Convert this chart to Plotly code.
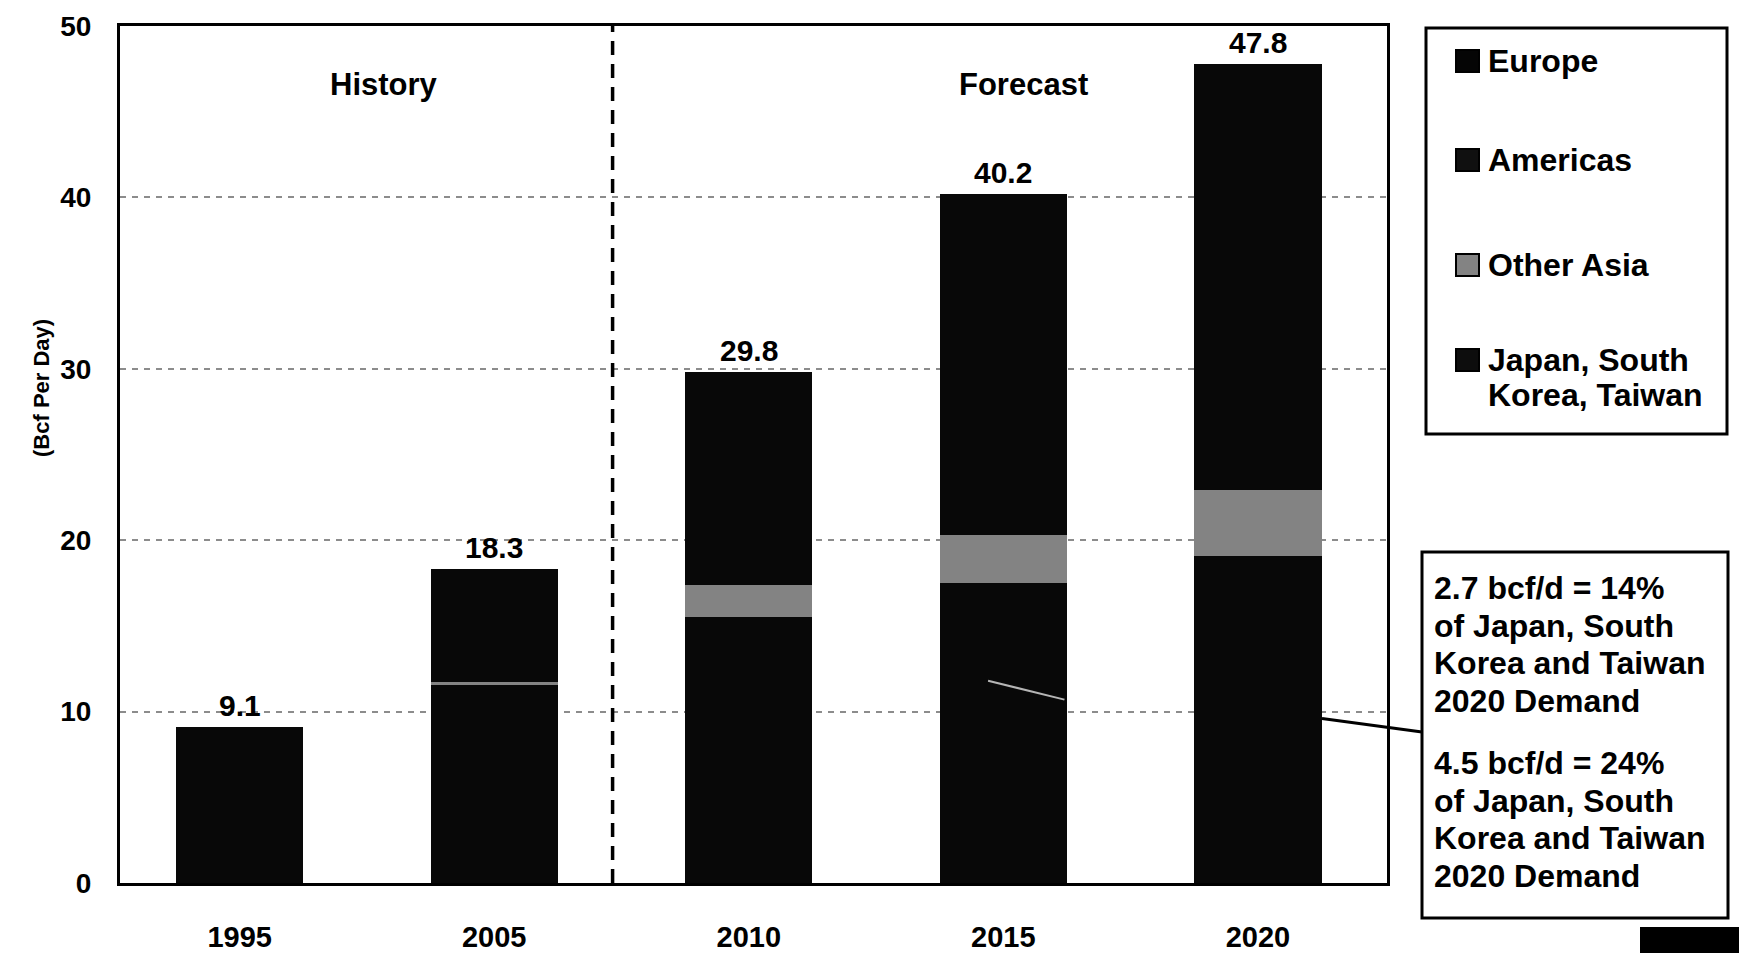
import plotly.graph_objects as go

# ---- data (Bcf per day) ----
years = ["1995", "2005", "2010", "2015", "2020"]
japan_korea_taiwan = [9.1, 11.6, 15.5, 17.5, 19.1]
other_asia = [0.0, 0.1, 1.9, 2.8, 3.8]
americas = [0.0, 2.5, 5.2, 8.3, 10.6]
europe = [0.0, 4.1, 7.2, 11.6, 14.3]

series_names = ["Japan, South Korea, Taiwan", "Other Asia", "Americas", "Europe"]
legend_labels = ["Europe", "Americas", "Other Asia", "Japan, South<br>Korea, Taiwan"]
callout_lines = [
    ["2.7 bcf/d = 14%", "of Japan, South", "Korea and Taiwan", "2020 Demand"],
    ["4.5 bcf/d = 24%", "of Japan, South", "Korea and Taiwan", "2020 Demand"],
]
y_ticks = [0, 10, 20, 30, 40, 50]

totals = [round(a + b + c + d, 1) for a, b, c, d in
          zip(japan_korea_taiwan, other_asia, americas, europe)]

# ---- geometry ----
W, H = 1739, 953
L, R, T, B = 120, 1739 - 1387, 26, 953 - 883
PW, PH = W - L - R, H - T - B


def px_x(px):
    return (px - L) / PW


def px_y(py):
    return (H - B - py) / PH


FONT = "Liberation Sans, Arial, Helvetica, sans-serif"
BAR_BLACK = "#080808"
GRAY = "#838383"

x = list(range(len(years)))
fig = go.Figure()

for name, vals, color in [
    (series_names[0], japan_korea_taiwan, BAR_BLACK),
    (series_names[1], other_asia, GRAY),
    (series_names[2], americas, BAR_BLACK),
    (series_names[3], europe, BAR_BLACK),
]:
    fig.add_trace(go.Bar(
        x=x, y=vals, name=name, width=0.5,
        marker=dict(color=color, line=dict(width=0)),
        showlegend=False,
    ))

# total labels above each bar
for xi, tot in zip(x, totals):
    fig.add_annotation(
        x=xi, y=tot, text=f"<b>{tot:.1f}</b>", showarrow=False,
        yanchor="bottom", yshift=3,
        font=dict(family=FONT, size=30, color="black"),
    )

# period headings
fig.add_annotation(x=0.567, y=46.6, text="<b>History</b>", showarrow=False,
                   font=dict(family=FONT, size=31, color="black"))
fig.add_annotation(x=3.08, y=46.6, text="<b>Forecast</b>", showarrow=False,
                   font=dict(family=FONT, size=31, color="black"))

# history / forecast divider
fig.add_shape(type="line", x0=1.465, x1=1.465, y0=0, y1=50,
              xref="x", yref="y",
              line=dict(color="black", width=3.5, dash="14px,9px"))

# callout pointers
fig.add_shape(type="line", x0=2.94, y0=11.8, x1=3.24, y1=10.7,
              xref="x", yref="y", line=dict(color="#b5b5b5", width=2))
fig.add_shape(type="line", xref="paper", yref="paper",
              x0=px_x(1322), y0=px_y(883 - 9.6 * PH / 50),
              x1=px_x(1422), y1=px_y(732),
              line=dict(color="black", width=3))

# y axis title
fig.add_annotation(x=px_x(42), y=px_y(388), xref="paper", yref="paper",
                   text="<b>(Bcf Per Day)</b>", textangle=-90, showarrow=False,
                   xanchor="center", yanchor="middle",
                   font=dict(family=FONT, size=22, color="black"))

# ---- legend box ----
fig.add_shape(type="rect", xref="paper", yref="paper",
              x0=px_x(1426), x1=px_x(1727), y0=px_y(28), y1=px_y(434),
              line=dict(color="black", width=3), fillcolor="white")
legend_rows = [61, 160, 265, 360]
legend_fill = ["#050505", "#101010", GRAY, "#0d0d0d"]
for label, cy, fill in zip(legend_labels, legend_rows, legend_fill):
    fig.add_shape(type="rect", xref="paper", yref="paper",
                  x0=px_x(1456), x1=px_x(1479), y0=px_y(cy + 11), y1=px_y(cy - 11),
                  line=dict(color="black", width=2), fillcolor=fill)
    parts = label.split("<br>")
    for k, part in enumerate(parts):
        fig.add_annotation(x=px_x(1486), y=px_y(cy + k * 35), xref="paper", yref="paper",
                           text=f"<b>{part}</b>", showarrow=False,
                           xanchor="left", yanchor="middle",
                           font=dict(family=FONT, size=32, color="black"))

# ---- callout box ----
fig.add_shape(type="rect", xref="paper", yref="paper",
              x0=px_x(1422), x1=px_x(1728), y0=px_y(552), y1=px_y(918),
              line=dict(color="black", width=3), fillcolor="white")
for block, top in zip(callout_lines, [588, 763]):
    for k, line in enumerate(block):
        fig.add_annotation(x=px_x(1432), y=px_y(top + k * 37.5), xref="paper", yref="paper",
                           text=f"<b>{line}</b>", showarrow=False,
                           xanchor="left", yanchor="middle",
                           font=dict(family=FONT, size=32, color="black"))

# corner block
fig.add_shape(type="rect", xref="paper", yref="paper",
              x0=px_x(1640), x1=px_x(1745), y0=px_y(960), y1=px_y(927),
              line=dict(width=0), fillcolor="black")

fig.update_layout(
    width=W, height=H,
    margin=dict(l=L, r=R, t=T, b=B, autoexpand=False),
    barmode="stack",
    paper_bgcolor="white", plot_bgcolor="white",
    font=dict(family=FONT, color="black"),
    showlegend=False,
)
fig.update_xaxes(
    range=[-0.47, 4.507], tickvals=x, ticktext=[f"<b>{y}</b>" for y in years],
    tickfont=dict(family=FONT, size=29, color="black"),
    showline=True, linecolor="black", linewidth=3, mirror=True,
    showgrid=False, zeroline=False, ticks="", ticklabelstandoff=26,
)
fig.update_yaxes(
    range=[0, 50], tickvals=y_ticks, ticktext=[f"<b>{v}</b>" for v in y_ticks],
    tickfont=dict(family=FONT, size=28, color="black"),
    showline=True, linecolor="black", linewidth=3, mirror=True,
    showgrid=True, gridcolor="#8c8c8c", gridwidth=1.5, griddash="6px,6px",
    zeroline=False, ticks="", ticklabelstandoff=20,
)

fig.write_html("out.html")
